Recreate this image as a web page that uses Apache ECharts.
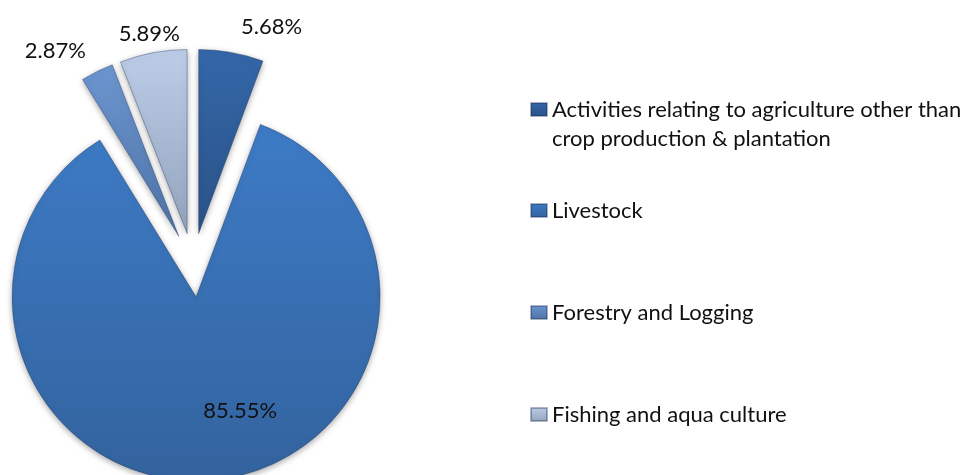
<!DOCTYPE html>
<html>
<head>
<meta charset="utf-8">
<script src="https://cdn.jsdelivr.net/npm/echarts@6/dist/echarts.min.js"></script>
<style>
  html, body { margin: 0; padding: 0; background: #fff; }
  #chart { width: 970px; height: 475px; }
</style>
</head>
<body>
<div id="chart"></div>
<script>
const categories = [
  'Activities relating to agriculture other than crop production & plantation',
  'Livestock',
  'Forestry and Logging',
  'Fishing and aqua culture'
];
const shares = [5.68, 85.55, 2.87, 5.89];

// top / bottom shades of each slice
const topColors = ['#3467a8', '#3d7bc6', '#6c96d0', '#bccde8'];
const bottomColors = ['#2a5288', '#33639e', '#4d72a6', '#93a3bd'];

// how far the outside labels sit from the arc, and nudges for each label
const labelLineLen = [26, 0, 25, 19];
const labelNudge = [[0, 0], [35, 20], [5, 2], [35, 0]];

const font = 'Lato, "Noto Sans", sans-serif';

const chart = echarts.init(document.getElementById('chart'));

const pieData = categories.map((name, i) => ({
  name: name,
  value: shares[i],
  selected: true,
  itemStyle: {
    color: new echarts.graphic.LinearGradient(0, 0, 0, 1, [
      {offset: 0, color: topColors[i]},
      {offset: 1, color: bottomColors[i]}
    ])
  },
  label: {position: i === 1 ? 'inside' : 'outside'},
  labelLine: {show: false, length: labelLineLen[i], length2: 0}
}));

// empty first line keeps the marker level with the first line of text
const wrapName = (name) => name === categories[0]
  ? ' \nActivities relating to agriculture other than\ncrop production & plantation'
  : name;

chart.setOption({
  animation: false,
  legend: [
    {
      orient: 'vertical',
      left: 530,
      top: 66,
      padding: 0,
      itemWidth: 16,
      itemHeight: 13,
      icon: 'rect',
      data: [categories[0]],
      formatter: wrapName,
      selectedMode: false,
      textStyle: {fontFamily: font, fontSize: 22, color: '#111', lineHeight: 29}
    },
    {
      orient: 'vertical',
      left: 530,
      top: 198,
      padding: 0,
      itemWidth: 16,
      itemHeight: 13,
      itemGap: 77,
      icon: 'rect',
      data: categories.slice(1),
      selectedMode: false,
      textStyle: {fontFamily: font, fontSize: 22, color: '#111', lineHeight: 25}
    }
  ],
  series: [
    {
      type: 'pie',
      center: [193, 265],
      radius: 184,
      startAngle: 90,
      clockwise: true,
      selectedMode: 'multiple',
      selectedOffset: 32,
      avoidLabelOverlap: false,
      itemStyle: {
        borderColor: 'rgba(20,40,80,0.35)',
        borderWidth: 1,
        shadowBlur: 6,
        shadowColor: 'rgba(0,0,0,0.35)',
        shadowOffsetY: 2
      },
      label: {
        formatter: '{c}%',
        fontFamily: font,
        fontSize: 22,
        color: '#111'
      },
      labelLayout: (params) => ({
        dx: labelNudge[params.dataIndex][0],
        dy: labelNudge[params.dataIndex][1]
      }),
      emphasis: {disabled: true},
      data: pieData
    }
  ]
});
</script>
</body>
</html>
